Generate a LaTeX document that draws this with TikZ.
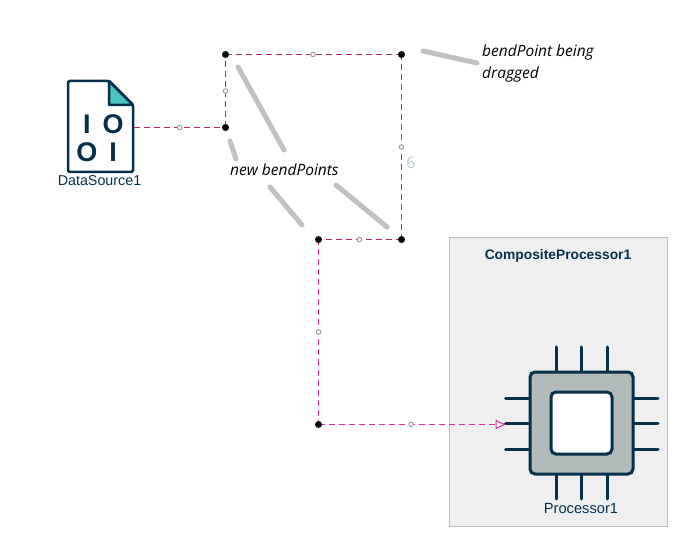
\documentclass[tikz,border=0pt]{standalone}
\usepackage{fontspec}
\setmainfont{Liberation Sans}
\newfontfamily\noteface{Open Sans}
\pgfdeclarelayer{top}
\pgfsetlayers{main,top}
\definecolor{ink}{HTML}{06304A}
\definecolor{teal1}{HTML}{4CC3C3}
\definecolor{chipgray}{HTML}{B2BABA}
\definecolor{boxfill}{HTML}{EFEFEF}
\definecolor{boxline}{HTML}{B4C0C0}
\definecolor{edgedeep}{rgb}{0.77,0.12,0.44}
\definecolor{edgepink}{rgb}{0.88,0.18,0.59}
\definecolor{callout}{HTML}{C0C0C0}
\definecolor{sixtint}{HTML}{B5C8D0}
\tikzset{
  x=1pt,y=-1pt,
  bendpt/.style={circle,fill=black,inner sep=0pt,minimum size=7pt},
  midpt/.style={circle,draw=gray!80,fill=white,line width=.9pt,inner sep=0pt,minimum size=4.5pt},
  linkup/.style={draw=edgedeep,line width=1pt,dash pattern=on 6pt off 4pt},
  linkend/.style={draw=edgepink,line width=1pt,dash pattern=on 6pt off 4pt},
  pointer/.style={callout,line width=5pt,line cap=round},
  chippin/.style={ink,line width=3pt,line cap=round},
  chipbody/.style={draw=ink,line width=3pt,rounded corners=5pt},
  lbl/.style={text=ink,inner sep=0pt},
  notetext/.style={font=\noteface\itshape\fontsize{15.5}{22}\selectfont,inner sep=0pt,align=left,anchor=west},
  bit/.style={text=ink,font=\bfseries\fontsize{27}{27}\selectfont,inner sep=0pt},
}
\begin{document}
\begin{tikzpicture}
\useasboundingbox (0,0) rectangle (686,556);
\fill[white] (0,0) rectangle (686,556);
% composite
\node[draw=boxline,fill=boxfill,line width=1pt,minimum width=218pt,minimum height=288pt,inner sep=0pt] (comp) at (558,382) {};
\node[text=ink,font=\bfseries\fontsize{13.8}{16}\selectfont,inner sep=0pt] (compl) at (558,256) {CompositeProcessor1};
% file icon
\draw[ink,line width=2.5pt,fill=white,line join=round,rounded corners=1.5pt] (68,81) -- (109,81) -- (133,105) -- (133,172) -- (68,172) -- cycle;
\draw[ink,line width=2.5pt,fill=teal1,line join=round] (109,81) -- (133,105) -- (109,105) -- cycle;
\node[bit] (b1) at (87,124) {I};
\node[bit] (b2) at (113,124) {O};
\node[bit] (b3) at (87,152) {O};
\node[bit] (b4) at (113,152) {I};
\node[lbl,font=\fontsize{14.3}{16}\selectfont] (dsl) at (99.5,181) {DataSource1};
\coordinate (dsout) at (134,127.5);
% chip
\foreach \p in {556,581.5,607} {
  \draw[chippin] (\p,347) -- (\p,372);
  \draw[chippin] (\p,474) -- (\p,499);
}
\foreach \p in {398,423.5,449} {
  \draw[chippin] (505.5,\p) -- (530,\p);
  \draw[chippin] (633,\p) -- (658,\p);
}
\draw[chipbody,fill=chipgray] (530,372) rectangle (633,474);
\draw[chipbody,fill=white] (551,392) rectangle (612,454);
\node[lbl,font=\fontsize{14.7}{16}\selectfont] (pl) at (581,509) {Processor1};
\coordinate (chipin) at (496,424.5);
% bend points (on top of the connectors)
\begin{pgfonlayer}{top}
\node[bendpt] (p1) at (225.5,127.5) {};
\node[bendpt] (p2) at (225.5,54.5) {};
\node[bendpt] (p3) at (401.5,54.5) {};
\node[bendpt] (p4) at (401.5,239.5) {};
\node[bendpt] (p5) at (318.5,239.5) {};
\node[bendpt] (p6) at (318.5,424.5) {};
\foreach \n/\x/\y in {m1/179.5/127.5,m2/225.5/91,m3/313/54.5,m4/401.5/147,m5/359.5/239.5,m6/318.5/332,m7/411/424.5} {
  \node[midpt] (\n) at (\x,\y) {};
}
\end{pgfonlayer}
% connectors
\draw[linkup] (dsout) -- (p1.center);
\draw[linkup] (p1.center) -- (p2.center);
\draw[linkup] (p2.center) -- (p3.center);
\draw[linkup] (p3.center) -- (p4.center);
\draw[linkup] (p4.center) -- (p5.center);
\draw[linkend] (p5.center) -- (p6.center);
\draw[linkend] (p6.center) -- (chipin);
\draw[draw=edgepink,line width=1pt,fill=white,line join=miter] (496,420.5) -- (504.5,424.5) -- (496,428.5) -- cycle;
% callouts
\draw[pointer] (238,67) -- (284,150);
\draw[pointer] (230,141) -- (236,159);
\draw[pointer] (270,187) -- (302,225);
\draw[pointer] (336,185) -- (387,227);
\draw[pointer] (423,51) -- (477,63);
\node[notetext] (n1) at (230,170) {new bendPoints};
\node[notetext,anchor=north west] (n2) at (482,45) {bendPoint being\\dragged};
\node[font=\noteface\fontsize{16}{16}\selectfont,text=sixtint,inner sep=0pt] (six) at (411,163) {6};
\end{tikzpicture}
\end{document}
